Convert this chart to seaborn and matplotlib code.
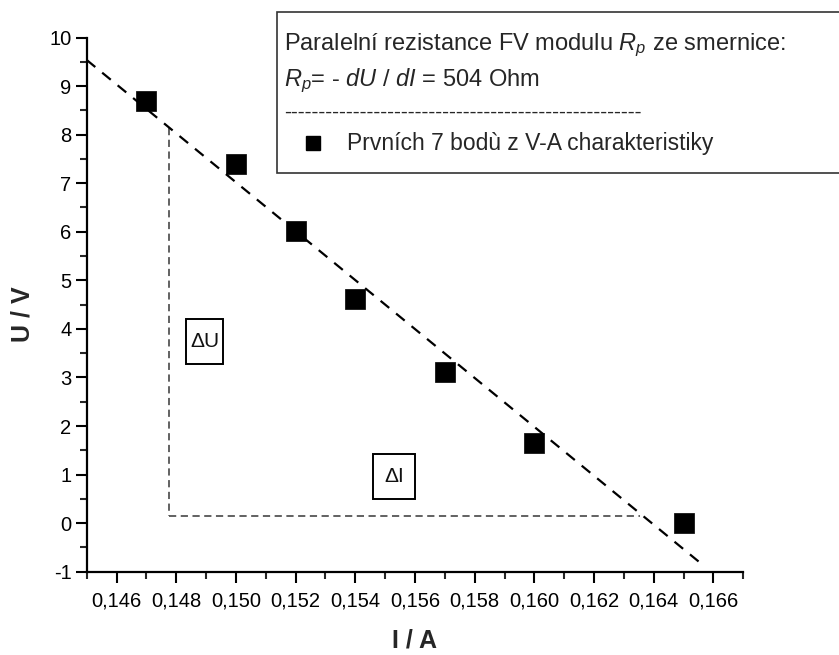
import numpy as np
import pandas as pd
import matplotlib
matplotlib.use("Agg")
import matplotlib.pyplot as plt
from matplotlib.patches import Rectangle
from matplotlib.lines import Line2D
import seaborn as sns

# ---- data ----
current_A = [0.147, 0.150, 0.152, 0.154, 0.157, 0.160, 0.165]
voltage_V = [8.70, 7.40, 6.02, 4.62, 3.12, 1.64, 0.00]
fit_range_I = [0.145, 0.1657]
tri_I = [0.14777, 0.16355]
tri_U_bottom = 0.15
x_ticks = [0.146, 0.148, 0.150, 0.152, 0.154, 0.156, 0.158, 0.160, 0.162, 0.164, 0.166]
x_tick_labels = ["0,146", "0,148", "0,150", "0,152", "0,154", "0,156", "0,158",
                 "0,160", "0,162", "0,164", "0,166"]
y_ticks = [-1, 0, 1, 2, 3, 4, 5, 6, 7, 8, 9, 10]
legend_line1 = "Paralelní rezistance FV modulu $R_p$ ze smernice:"
legend_line2 = "$R_p$= - $dU$ / $dI$ = 504 Ohm"
legend_series = "Prvních 7 bodù z V-A charakteristiky"

sns.set_theme(style="ticks")
plt.rcParams["font.family"] = ["Liberation Sans", "DejaVu Sans"]
plt.rcParams["mathtext.fontset"] = "custom"
plt.rcParams["mathtext.rm"] = "Liberation Sans"
plt.rcParams["mathtext.it"] = "Liberation Sans:italic"

W, H = 839, 655
fig = plt.figure(figsize=(W / 100, H / 100), dpi=100)
ax = fig.add_axes([86.7 / W, 1 - 571.7 / H, (743.3 - 86.7) / W, (571.7 - 37.5) / H])

df = pd.DataFrame({"I": current_A, "U": voltage_V})

# linear fit
slope, intercept = np.polyfit(current_A, voltage_V, 1)
fit_df = pd.DataFrame({"I": fit_range_I,
                       "U": [slope * x + intercept for x in fit_range_I]})
sns.lineplot(data=fit_df, x="I", y="U", ax=ax, color="black", lw=1.6,
             dashes=False, linestyle=(0, (5, 4)), zorder=2)

# triangle
tri_top = slope * tri_I[0] + intercept
ax.plot([tri_I[0], tri_I[0]], [tri_top, tri_U_bottom], color="#555555", lw=1.3,
        linestyle=(0, (4, 2.5)), zorder=1)
ax.plot([tri_I[0], tri_I[1]], [tri_U_bottom, tri_U_bottom], color="#555555", lw=1.3,
        linestyle=(0, (4, 2.5)), zorder=1)

sns.scatterplot(data=df, x="I", y="U", ax=ax, marker="s", s=210, color="black",
                edgecolor="black", linewidth=0.5, zorder=3, legend=False)

# delta boxes
for (x0, x1, y0, y1), label in [((0.148317, 0.149576, 3.271, 4.198), "ΔU"),
                                ((0.154581, 0.155998, 0.491, 1.418), "ΔI")]:
    ax.add_patch(Rectangle((x0, y0), x1 - x0, y1 - y0, fc="white", ec="black",
                           lw=1.4, zorder=4))
    ax.text((x0 + x1) / 2, (y0 + y1) / 2, label, ha="center", va="center",
            fontsize=15, zorder=5, color="#111111")

ax.set_xlim(0.145, 0.167)
ax.set_ylim(-1, 10)
ax.set_xticks(x_ticks)
ax.set_xticklabels(x_tick_labels)
ax.set_xticks(np.arange(0.145, 0.16705, 0.001), minor=True)
ax.set_yticks(y_ticks)
ax.set_yticklabels([str(t) for t in y_ticks])
ax.set_yticks(np.arange(-1, 10.01, 0.5), minor=True)
ax.tick_params(which="major", length=8, width=1.5, labelsize=14.5, colors="black")
ax.tick_params(axis="x", which="major", pad=6)
ax.tick_params(axis="y", which="major", pad=3)
ax.tick_params(which="minor", length=5, width=1.5)
for s in ["top", "right"]:
    ax.spines[s].set_visible(False)
for s in ["left", "bottom"]:
    ax.spines[s].set_linewidth(1.6)
    ax.spines[s].set_color("black")

ax.set_xlabel("I / A", fontsize=18, fontweight="bold", va="center")
ax.set_ylabel("U / V", fontsize=18, fontweight="bold", va="center")
ax.xaxis.set_label_coords(0.5, (571.7 - 641) / (571.7 - 37.5))
ax.yaxis.set_label_coords((22 - 86.7) / (743.3 - 86.7), (571.7 - 314) / (571.7 - 37.5))

# legend box (figure level)
fig.add_artist(Rectangle((277.3 / W, 1 - 173.3 / H), 1.0, (173.3 - 12.3) / H,
                         transform=fig.transFigure, fc="white", ec="#333333", lw=1.2,
                         zorder=5))
fig.text(284 / W, 1 - 50 / H, legend_line1, fontsize=17, va="baseline", ha="left", zorder=6)
fig.text(284 / W, 1 - 86 / H, legend_line2, fontsize=17, va="baseline", ha="left", zorder=6)
fig.text(284 / W, 1 - 118 / H, "-" * 52, fontsize=15, va="baseline", ha="left", zorder=6)
fig.add_artist(Line2D([313 / W], [1 - 143 / H], marker="s", markersize=10, color="black",
                      transform=fig.transFigure, zorder=6))
fig.text(347 / W, 1 - 150 / H, legend_series, fontsize=16.5, va="baseline", ha="left", zorder=6)

fig.savefig("out.png", dpi=100)
